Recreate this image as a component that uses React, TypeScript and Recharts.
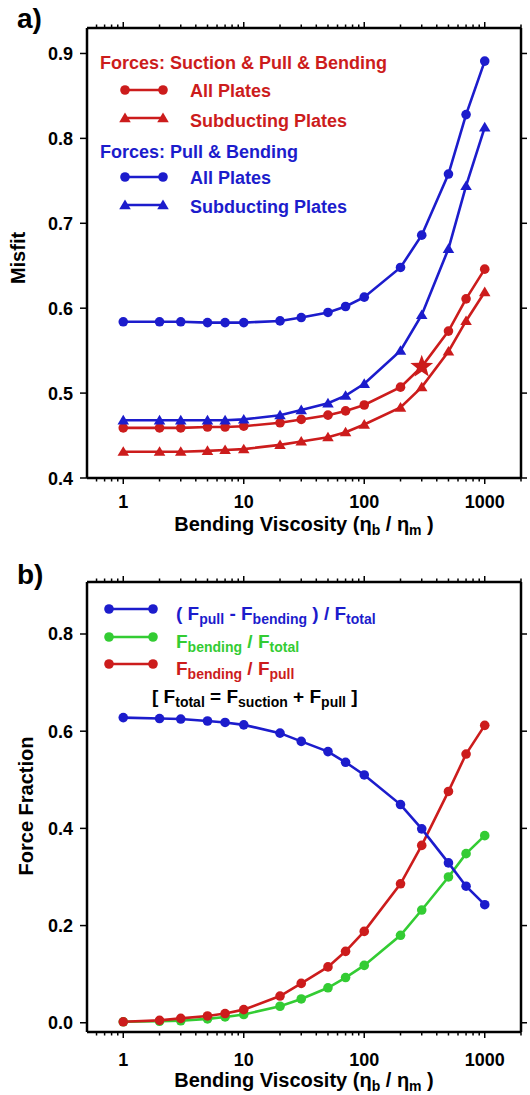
import React from "react";
import { LineChart, Line, XAxis, YAxis } from "recharts";

/* ── Data ─────────────────────────────────────────────────── */

const VISC = [1, 2, 3, 5, 7, 10, 20, 30, 50, 70, 100, 200, 300, 500, 700, 1000];

// panel a: misfit
const redAll = [0.459, 0.459, 0.459, 0.46, 0.46, 0.461, 0.465, 0.469, 0.474, 0.479, 0.486, 0.507, 0.531, 0.573, 0.611, 0.646];
const redSub = [0.431, 0.431, 0.431, 0.432, 0.433, 0.434, 0.439, 0.443, 0.448, 0.454, 0.463, 0.483, 0.507, 0.549, 0.585, 0.619];
const blueAll = [0.584, 0.584, 0.584, 0.583, 0.583, 0.583, 0.585, 0.589, 0.595, 0.602, 0.613, 0.648, 0.686, 0.758, 0.828, 0.891];
const blueSub = [0.468, 0.468, 0.468, 0.468, 0.468, 0.469, 0.474, 0.48, 0.488, 0.497, 0.511, 0.55, 0.592, 0.67, 0.744, 0.813];

// panel b: force fraction
const netPull = [0.628, 0.626, 0.625, 0.621, 0.618, 0.613, 0.596, 0.579, 0.558, 0.536, 0.51, 0.449, 0.399, 0.329, 0.281, 0.243];
const bendTotal = [0.002, 0.003, 0.004, 0.008, 0.012, 0.017, 0.034, 0.049, 0.072, 0.093, 0.118, 0.18, 0.232, 0.3, 0.348, 0.385];
const bendPull = [0.002, 0.005, 0.009, 0.014, 0.019, 0.027, 0.055, 0.081, 0.115, 0.147, 0.188, 0.286, 0.365, 0.476, 0.553, 0.612];

const STAR_AT = 300;

const X_MAJOR = [1, 10, 100, 1000];
const X_MINOR = [0.6, 0.7, 0.8, 0.9, 2, 3, 4, 5, 6, 7, 8, 9, 20, 30, 40, 50, 60, 70, 80, 90, 200, 300, 400, 500, 600, 700, 800, 900, 2000];
const A_TICKS = [0.4, 0.5, 0.6, 0.7, 0.8, 0.9];
const B_TICKS = [0, 0.2, 0.4, 0.6, 0.8];

const dataA = VISC.map((x, i) => ({ x, redAll: redAll[i], redSub: redSub[i], blueAll: blueAll[i], blueSub: blueSub[i] }));
const dataB = VISC.map((x, i) => ({ x, netPull: netPull[i], bendTotal: bendTotal[i], bendPull: bendPull[i] }));

/* ── Style ────────────────────────────────────────────────── */

const RED = "#cc1c1c";
const BLUE = "#1c1ccc";
const GREEN = "#33cc33";
const FONT = "'Liberation Sans', Arial, Helvetica, sans-serif";
const W = 530;

/* ── Ticks & markers ──────────────────────────────────────── */

function makeXTick(labelDy: number, up: boolean) {
  return (props: any) => {
    const { x, y, payload } = props;
    const major = X_MAJOR.includes(payload.value);
    const len = major ? 6 : 3.5;
    return (
      <g>
        <line x1={x} x2={x} y1={y} y2={up ? y - len : y + len} stroke="#000" strokeWidth={1.5} />
        {!up && major && (
          <text x={x} y={y + labelDy} textAnchor="middle" fontFamily={FONT} fontWeight="bold" fontSize={18} fill="#000">
            {payload.value}
          </text>
        )}
      </g>
    );
  };
}

function makeYTick(right: boolean) {
  return (props: any) => {
    const { x, y, payload } = props;
    return (
      <g>
        <line x1={x} x2={right ? x + 6 : x - 7} y1={y} y2={y} stroke="#000" strokeWidth={1.5} />
        {!right && (
          <text x={x - 14} y={y + 6.5} textAnchor="end" fontFamily={FONT} fontWeight="bold" fontSize={18} fill="#000">
            {Number(payload.value).toFixed(1)}
          </text>
        )}
      </g>
    );
  };
}

function triPoints(cx: number, cy: number, s: number) {
  return `${cx},${cy - s} ${cx - s * 1.05},${cy + s * 0.75} ${cx + s * 1.05},${cy + s * 0.75}`;
}

function starPoints(cx: number, cy: number, ro: number, ri: number) {
  const pts: string[] = [];
  for (let k = 0; k < 10; k++) {
    const r = k % 2 === 0 ? ro : ri;
    const a = -Math.PI / 2 + (k * Math.PI) / 5;
    pts.push(`${cx + r * Math.cos(a)},${cy + r * Math.sin(a)}`);
  }
  return pts.join(" ");
}

const triDot = (color: string) => (p: any) =>
  <polygon key={`t${p.index}`} points={triPoints(p.cx, p.cy, 5.5)} fill={color} />;

const circDot = (color: string, star = false) => (p: any) =>
  star && p.payload?.x === STAR_AT ? (
    <polygon key={`s${p.index}`} points={starPoints(p.cx, p.cy, 12, 5)} fill={color} />
  ) : (
    <circle key={`c${p.index}`} cx={p.cx} cy={p.cy} r={4.8} fill={color} />
  );

/* ── Shared axes (box frame with mirrored ticks) ──────────── */

function frameAxes(domainY: number[], yTicks: number[], xHeight: number, labelDy: number, anyKey: string) {
  const xCommon = {
    dataKey: "x",
    type: "number" as const,
    scale: "log" as const,
    domain: [0.5, 2000],
    allowDataOverflow: true,
    ticks: [...X_MINOR, ...X_MAJOR].sort((a, b) => a - b),
    interval: 0 as const,
    tickSize: 0,
    tickMargin: 0,
    axisLine: true,
    stroke: "#000",
    strokeWidth: 2.5,
    tickLine: false,
  };
  const yCommon = {
    type: "number" as const,
    domain: domainY,
    allowDataOverflow: true,
    ticks: yTicks,
    interval: 0 as const,
    tickSize: 0,
    tickMargin: 0,
    axisLine: true,
    stroke: "#000",
    strokeWidth: 2.5,
    tickLine: false,
  };
  return [
    <XAxis key="xb" xAxisId="b" orientation="bottom" height={xHeight} tick={makeXTick(labelDy, false)} {...xCommon} />,
    <XAxis key="xt" xAxisId="t" orientation="top" height={1} tick={makeXTick(0, true)} {...xCommon} />,
    <YAxis key="yl" yAxisId="l" orientation="left" width={60} tick={makeYTick(false)} {...yCommon} />,
    <YAxis key="yr" yAxisId="r" orientation="right" width={1} tick={makeYTick(true)} {...yCommon} />,
    // invisible carrier so the mirrored top/right axes get drawn
    <Line
      key="carrier"
      xAxisId="t"
      yAxisId="r"
      dataKey={anyKey}
      stroke="none"
      dot={false}
      activeDot={false}
      legendType="none"
      isAnimationActive={false}
    />,
  ];
}

function series(key: string, color: string, dot: any) {
  return (
    <Line
      key={key}
      xAxisId="b"
      yAxisId="l"
      dataKey={key}
      stroke={color}
      strokeWidth={2.6}
      dot={dot}
      activeDot={false}
      isAnimationActive={false}
    />
  );
}

const txt = { fontFamily: FONT, fontWeight: "bold" as const };

function ViscLabel({ y }: { y: number }) {
  return (
    <text x={304} y={y} textAnchor="middle" fontSize={20} {...txt} fill="#000">
      Bending Viscosity (η<tspan fontSize={14} dy={4}>b</tspan>
      <tspan dy={-4}> / η</tspan>
      <tspan fontSize={14} dy={4}>m</tspan>
      <tspan dy={-4}> )</tspan>
    </text>
  );
}

function LegendRow({ y, ty, color, tri, label }: { y: number; ty: number; color: string; tri?: boolean; label: string }) {
  return (
    <g>
      <line x1={125} x2={163} y1={y} y2={y} stroke={color} strokeWidth={2.6} />
      {tri ? (
        <>
          <polygon points={triPoints(125, y, 5.5)} fill={color} />
          <polygon points={triPoints(163, y, 5.5)} fill={color} />
        </>
      ) : (
        <>
          <circle cx={125} cy={y} r={4.8} fill={color} />
          <circle cx={163} cy={y} r={4.8} fill={color} />
        </>
      )}
      <text x={190} y={ty} fontSize={18} {...txt} fill={color}>
        {label}
      </text>
    </g>
  );
}

/* ── Panels ───────────────────────────────────────────────── */

function PanelA() {
  return (
    <div style={{ position: "absolute", left: 0, top: 0, width: W, height: 545 }}>
      <LineChart width={W} height={545} data={dataA} margin={{ top: 27, right: 8, left: 27, bottom: 0 }}>
        {frameAxes([0.4, 0.93], A_TICKS, 67, 30, "blueAll")}
        {series("redSub", RED, triDot(RED))}
        {series("redAll", RED, circDot(RED, true))}
        {series("blueSub", BLUE, triDot(BLUE))}
        {series("blueAll", BLUE, circDot(BLUE))}
      </LineChart>
      <svg width={W} height={545} style={{ position: "absolute", left: 0, top: 0, pointerEvents: "none" }}>
        <text x={17} y={28} fontSize={28} {...txt} fill="#000">a)</text>
        <text x={25} y={258} fontSize={20} {...txt} fill="#000" textAnchor="middle" transform="rotate(-90 25 258)">
          Misfit
        </text>
        <ViscLabel y={531} />
        <text x={100} y={69} fontSize={18} {...txt} fill={RED}>Forces: Suction &amp; Pull &amp; Bending</text>
        <LegendRow y={90} ty={97} color={RED} label="All Plates" />
        <LegendRow y={118} ty={127} color={RED} tri label="Subducting Plates" />
        <text x={100} y={158} fontSize={18} {...txt} fill={BLUE}>Forces: Pull &amp; Bending</text>
        <LegendRow y={177} ty={184} color={BLUE} label="All Plates" />
        <LegendRow y={205} ty={213} color={BLUE} tri label="Subducting Plates" />
      </svg>
    </div>
  );
}

function BRow({ y, color }: { y: number; color: string }) {
  return (
    <g>
      <line x1={109} x2={153} y1={y} y2={y} stroke={color} strokeWidth={2.6} />
      <circle cx={109} cy={y} r={4.8} fill={color} />
      <circle cx={153} cy={y} r={4.8} fill={color} />
    </g>
  );
}

function PanelB() {
  const s = 14;
  return (
    <div style={{ position: "absolute", left: 0, top: 545, width: W, height: 550 }}>
      <LineChart width={W} height={550} data={dataB} margin={{ top: 36, right: 8, left: 27, bottom: 0 }}>
        {frameAxes([-0.019, 0.907], B_TICKS, 63, 34, "netPull")}
        {series("bendTotal", GREEN, circDot(GREEN))}
        {series("bendPull", RED, circDot(RED))}
        {series("netPull", BLUE, circDot(BLUE))}
      </LineChart>
      <svg width={W} height={550} style={{ position: "absolute", left: 0, top: 0, pointerEvents: "none" }}>
        <text x={17} y={39} fontSize={28} {...txt} fill="#000">b)</text>
        <text x={33} y={261} fontSize={20} {...txt} fill="#000" textAnchor="middle" transform="rotate(-90 33 261)">
          Force Fraction
        </text>
        <ViscLabel y={542} />
        <BRow y={64} color={BLUE} />
        <text x={176} y={75} fontSize={19} {...txt} fill={BLUE}>
          ( F<tspan fontSize={s} dy={4}>pull</tspan>
          <tspan dy={-4}> - F</tspan>
          <tspan fontSize={s} dy={4}>bending</tspan>
          <tspan dy={-4}> ) / F</tspan>
          <tspan fontSize={s} dy={4}>total</tspan>
        </text>
        <BRow y={92} color={GREEN} />
        <text x={176} y={103} fontSize={19} {...txt} fill={GREEN}>
          F<tspan fontSize={s} dy={4}>bending</tspan>
          <tspan dy={-4}> / F</tspan>
          <tspan fontSize={s} dy={4}>total</tspan>
        </text>
        <BRow y={119} color={RED} />
        <text x={176} y={130} fontSize={19} {...txt} fill={RED}>
          F<tspan fontSize={s} dy={4}>bending</tspan>
          <tspan dy={-4}> / F</tspan>
          <tspan fontSize={s} dy={4}>pull</tspan>
        </text>
        <text x={152} y={158} fontSize={19} {...txt} fill="#000">
          [ F<tspan fontSize={s} dy={4}>total</tspan>
          <tspan dy={-4}> = F</tspan>
          <tspan fontSize={s} dy={4}>suction</tspan>
          <tspan dy={-4}> + F</tspan>
          <tspan fontSize={s} dy={4}>pull</tspan>
          <tspan dy={-4}> ]</tspan>
        </text>
      </svg>
    </div>
  );
}

export default function App() {
  return (
    <div style={{ position: "absolute", left: 0, top: 0, width: W, height: 1095, background: "#fff" }}>
      <PanelA />
      <PanelB />
    </div>
  );
}
